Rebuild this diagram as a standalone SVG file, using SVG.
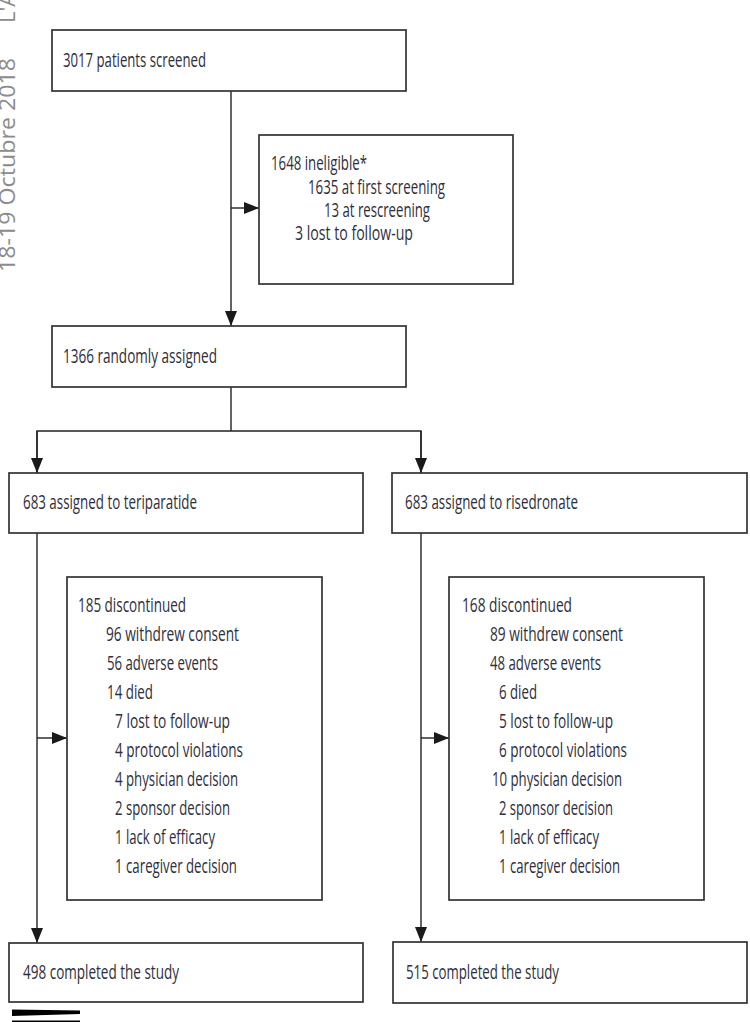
<svg xmlns="http://www.w3.org/2000/svg" width="750" height="1022" viewBox="0 0 750 1022">
<defs>
<style>
.box{fill:#fff;stroke:#333;stroke-width:1.7}
.t{font-family:"Open Sans","Liberation Sans",Arial,sans-serif;font-size:20px;fill:#2e2e3c}
.c{fill:none;stroke:#222;stroke-width:1.4}
.side{font-family:"Open Sans","Liberation Sans",Arial,sans-serif;font-size:22px;fill:#8c8c8c}
</style>
<marker id="ah" markerUnits="userSpaceOnUse" markerWidth="16" markerHeight="13" refX="15" refY="6" orient="auto">
<path d="M0,0 L15,6 L0,12 z" fill="#1a1a1a"/>
</marker>
</defs>
<rect width="750" height="1022" fill="#fff"/>

<g id="margin">
<text class="side" transform="translate(15,272) rotate(-90)" textLength="214" lengthAdjust="spacingAndGlyphs">18-19 Octubre 2018</text>
<text class="side" transform="translate(15,23) rotate(-90)">L'A</text>
<polygon points="12,1009.5 80,1010.5 80,1014 12,1016" fill="#000"/>
<rect x="12" y="1020.5" width="68" height="1.5" fill="#000"/>
</g>

<g id="connectors">
<line class="c" x1="231" y1="91" x2="231" y2="326" marker-end="url(#ah)"/>
<line class="c" x1="231" y1="208" x2="259" y2="208" marker-end="url(#ah)"/>
<polyline class="c" points="231,387 231,431"/>
<polyline class="c" points="37,473 37,431 421,431 421,473"/>
<line class="c" x1="37" y1="431" x2="37" y2="473" marker-end="url(#ah)"/>
<line class="c" x1="421" y1="431" x2="421" y2="473" marker-end="url(#ah)"/>
<line class="c" x1="37" y1="533" x2="37" y2="943" marker-end="url(#ah)"/>
<line class="c" x1="37" y1="738" x2="67" y2="738" marker-end="url(#ah)"/>
<line class="c" x1="421" y1="533" x2="421" y2="942" marker-end="url(#ah)"/>
<line class="c" x1="421" y1="738" x2="449" y2="738" marker-end="url(#ah)"/>
</g>

<g id="screened">
<rect class="box" x="52" y="30" width="354" height="61"/>
<text class="t" x="63" y="67" textLength="143" lengthAdjust="spacingAndGlyphs">3017 patients screened</text>
</g>

<g id="ineligible">
<rect class="box" x="259" y="135" width="254" height="149"/>
<text class="t" x="271" y="170" textLength="96" lengthAdjust="spacingAndGlyphs">1648 ineligible*</text>
<text class="t" x="308" y="194" textLength="137" lengthAdjust="spacingAndGlyphs">1635 at first screening</text>
<text class="t" x="324" y="217" textLength="106" lengthAdjust="spacingAndGlyphs">13 at rescreening</text>
<text class="t" x="295" y="240" textLength="118" lengthAdjust="spacingAndGlyphs">3 lost to follow-up</text>
</g>

<g id="randomised">
<rect class="box" x="52" y="326" width="354" height="61"/>
<text class="t" x="63" y="363" textLength="154" lengthAdjust="spacingAndGlyphs">1366 randomly assigned</text>
</g>

<g id="teriparatide">
<rect class="box" x="9" y="473" width="354" height="60"/>
<text class="t" x="23" y="509" textLength="174" lengthAdjust="spacingAndGlyphs">683 assigned to teriparatide</text>
</g>

<g id="risedronate">
<rect class="box" x="392" y="473" width="355" height="60"/>
<text class="t" x="405" y="509" textLength="173" lengthAdjust="spacingAndGlyphs">683 assigned to risedronate</text>
</g>

<g id="discontinued-teriparatide">
<rect class="box" x="67" y="577" width="255" height="323"/>
<text class="t" x="78" y="612" textLength="108" lengthAdjust="spacingAndGlyphs">185 discontinued</text>
<text class="t" x="106" y="641" textLength="133" lengthAdjust="spacingAndGlyphs">96 withdrew consent</text>
<text class="t" x="107" y="670" textLength="111" lengthAdjust="spacingAndGlyphs">56 adverse events</text>
<text class="t" x="107" y="699" textLength="46" lengthAdjust="spacingAndGlyphs">14 died</text>
<text class="t" x="115" y="728" textLength="115" lengthAdjust="spacingAndGlyphs">7 lost to follow-up</text>
<text class="t" x="115" y="757" textLength="128" lengthAdjust="spacingAndGlyphs">4 protocol violations</text>
<text class="t" x="115" y="786" textLength="123" lengthAdjust="spacingAndGlyphs">4 physician decision</text>
<text class="t" x="115" y="815" textLength="115" lengthAdjust="spacingAndGlyphs">2 sponsor decision</text>
<text class="t" x="115" y="844" textLength="100" lengthAdjust="spacingAndGlyphs">1 lack of efficacy</text>
<text class="t" x="115" y="873" textLength="122" lengthAdjust="spacingAndGlyphs">1 caregiver decision</text>
</g>

<g id="discontinued-risedronate">
<rect class="box" x="449" y="577" width="255" height="323"/>
<text class="t" x="462" y="612" textLength="110" lengthAdjust="spacingAndGlyphs">168 discontinued</text>
<text class="t" x="490" y="641" textLength="133" lengthAdjust="spacingAndGlyphs">89 withdrew consent</text>
<text class="t" x="490" y="670" textLength="111" lengthAdjust="spacingAndGlyphs">48 adverse events</text>
<text class="t" x="499" y="699" textLength="38" lengthAdjust="spacingAndGlyphs">6 died</text>
<text class="t" x="499" y="728" textLength="114" lengthAdjust="spacingAndGlyphs">5 lost to follow-up</text>
<text class="t" x="499" y="757" textLength="128" lengthAdjust="spacingAndGlyphs">6 protocol violations</text>
<text class="t" x="492" y="786" textLength="130" lengthAdjust="spacingAndGlyphs">10 physician decision</text>
<text class="t" x="499" y="815" textLength="114" lengthAdjust="spacingAndGlyphs">2 sponsor decision</text>
<text class="t" x="499" y="844" textLength="100" lengthAdjust="spacingAndGlyphs">1 lack of efficacy</text>
<text class="t" x="499" y="873" textLength="121" lengthAdjust="spacingAndGlyphs">1 caregiver decision</text>
</g>

<g id="completed-teriparatide">
<rect class="box" x="9" y="943" width="354" height="59"/>
<text class="t" x="23" y="979" textLength="156" lengthAdjust="spacingAndGlyphs">498 completed the study</text>
</g>

<g id="completed-risedronate">
<rect class="box" x="393" y="942" width="354" height="61"/>
<text class="t" x="406" y="979" textLength="153" lengthAdjust="spacingAndGlyphs">515 completed the study</text>
</g>
</svg>
